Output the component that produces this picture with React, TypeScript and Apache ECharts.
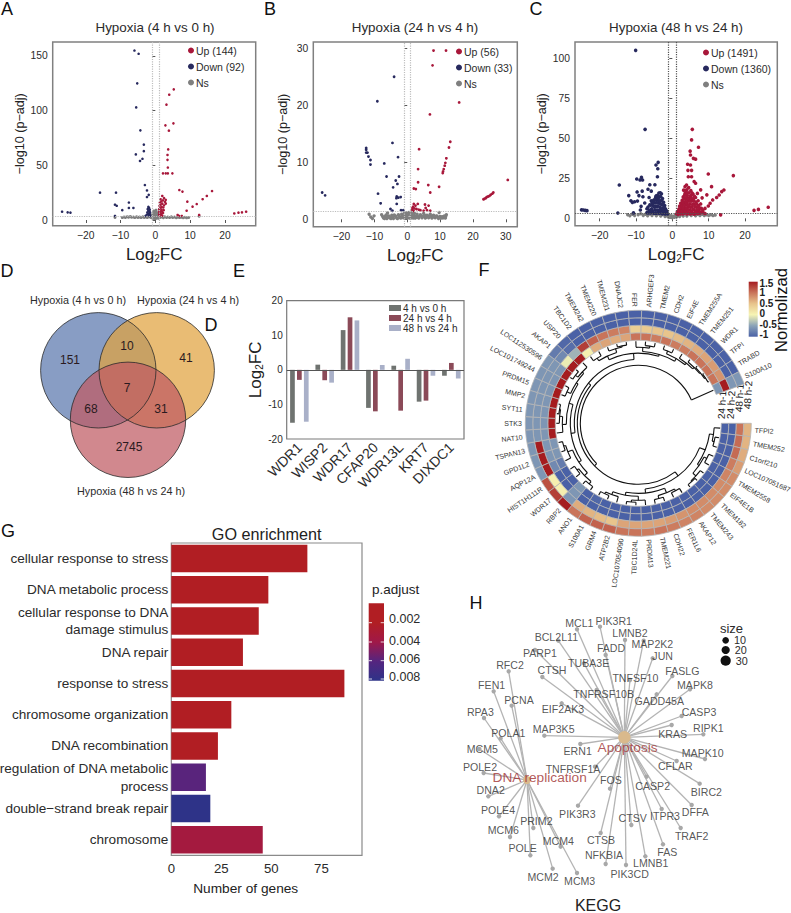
import React, { useEffect, useRef } from "react";
import * as echarts from "echarts";

const FONT = "Liberation Sans";
const TXT = "#2b2b2b";

// ---------- Volcano data ----------
const aUp = [[5.3,119.5],[4,114.6],[3.2,105.5],[2.9,86.6],[5.2,88.4],[3.9,81.7],[3.7,64.6],[3.5,59.5],[3.5,55],[3.6,48],[2.2,42.7],[3,42.7],[3.6,42.7],[4.9,42.7],[6.9,27.4],[7.8,26],[16.3,26.5],[14.8,22],[13.6,19],[11.9,14.6],[10.7,12.2],[9.2,16.8],[9,8.5],[12.6,4.6],[22.7,6],[23.9,6.7],[24.9,7],[26.1,7.6],[6.4,4.6],[6.8,3.7],[7.6,3.7],[2,22],[2.5,20],[1.5,19],[3,18.5],[2.2,18],[1.7,17],[2.8,16.5],[1.3,16],[2,15],[3,15],[1.5,14],[2.5,13.5],[1.2,13],[1.8,12],[2.3,11.5],[1.4,11],[1.1,10],[1.8,9.5],[2.4,9],[1.3,8.5],[1.9,8],[1.1,7.5],[1.5,7],[2.2,6.5],[1.2,6],[1.7,5.5],[1.1,5],[1.5,4.5],[2,4],[1.2,3.8],[1.6,3.7]];
const aDown = [[-6,155],[-4.8,152],[-5.2,125],[-5.5,103],[-4.3,82],[-3.3,69],[-3.3,63],[-5.6,60],[-3.7,56],[-4.4,54],[-3,32],[-2.4,27],[-1.9,23],[-2.4,21],[-15.9,25],[-11.3,25],[-11.6,14],[-11.1,13],[-7.6,16],[-7.6,11],[-6.3,11],[-9.5,9],[-11.6,3.7],[-26.8,7.6],[-25.2,7],[-24.4,6.7],[-2,12],[-1.8,11],[-2.2,10],[-1.6,9.5],[-2,8.5],[-1.7,8],[-2.3,7],[-1.5,7],[-2,6],[-1.6,5.5],[-2.4,5],[-1.9,4.5],[-1.5,4],[-2.8,3.8],[-1.7,3.7]];
const aNs = [[-11.6,2.4],[-9.5,2.2],[-9,2.8],[-8.6,2.4],[-8.1,3],[-7.7,2.6],[-7.2,3.1],[-6.8,2.5],[-6.3,2.8],[-5.9,2.2],[-5.4,2.9],[-5,2.4],[-4.5,2.7],[-4.1,2.2],[-3.6,2.9],[-3.2,2.3],[-2.7,2.8],[-2.3,2.2],[-1.8,2.9],[-1.3,2.3],[-1,3.2],[-0.8,1.6],[-0.7,2.6],[-0.6,3.8],[-0.5,5.2],[-0.4,1.5],[-0.3,2.5],[-0.2,4],[-0.1,6.4],[0,1.4],[0.1,2.6],[0.2,4.4],[0.3,7.2],[0.4,1.6],[0.5,3],[0.6,5.2],[0.7,2.2],[0.8,3.6],[0.9,1.7],[1.3,2.2],[1.8,2.8],[2.3,2.1],[2.7,2.9],[3.2,2.3],[3.6,2.8],[4.1,2.2],[4.6,2.9],[5,2.3],[5.5,2.7],[6,2.1],[6.5,2.6],[7,2.2],[7.5,2.6],[8,2.1],[8.5,2.5],[9,2],[9.6,2.3],[12.6,3.4],[-0.5,8.2],[0.2,9],[-0.2,8],[-0.6,6.4],[0.7,6.2],[-0.9,4.8],[0.95,4.8]];
const bUp = [[8,29.6],[11.8,29.6],[7.7,27],[15.8,20.5],[6.9,18.4],[13.1,13.6],[12.7,12.6],[3.6,12.3],[11.9,10.7],[11.6,9.9],[11.4,9.4],[11.1,8.8],[10.9,8.4],[10.8,8.1],[3.3,8.8],[3.3,6.5],[6.4,6],[9.7,5.7],[2,5.4],[2.6,5.3],[7,4.7],[30.6,6.9],[26.2,4.7],[25.9,4.5],[25.4,4.3],[25,4.1],[24.6,4],[24.2,3.9],[23.9,3.7],[23.5,3.6],[23.2,3.5],[2,2.7],[2.5,2.4],[1.8,2.2],[3.2,2.7],[1.6,2],[2.2,1.9],[2.8,1.8],[1.5,1.7],[3.5,1.7],[4,1.6],[5.4,2.6],[5.6,2],[6.5,2.4],[5,1.5],[6,1.6],[7,1.5],[1.9,1.5]];
const bDown = [[-4,25],[-9.1,20.7],[-4.5,13.4],[-12.5,12.5],[-12.5,12.2],[-12.5,11.7],[-12.1,11.7],[-11.8,11],[-11.2,10.4],[-11.2,9.6],[-2.8,10.9],[-7,9.8],[-6.3,7.5],[-2.5,7.5],[-3.5,6.8],[-3,6.2],[-4.3,5.6],[-25.9,4.7],[-25,4.2],[-8.9,4.5],[-8.1,2.8],[-3.2,4],[-3.3,3.7],[-2.7,3.8],[-2,3.9],[-3.2,2.7],[-5.1,1.8],[-1.9,1.6],[-1.2,1.6],[-4.5,1.5]];
const bNs = [[-11.6,0.9],[-11.1,0.4],[-10.6,0.15],[-10.1,0.6],[-7.8,0.8],[-7.2,0.2],[-6.7,0.5],[-6.2,0.15],[-5.7,0.6],[-5.2,0.2],[-4.7,0.7],[-4.2,0.15],[-3.7,0.6],[-3.2,0.2],[-2.7,0.8],[-2.2,0.3],[-1.7,0.9],[-1.2,0.25],[-0.9,1],[-0.7,0.2],[-0.5,0.7],[-0.3,1.1],[0,0.2],[0.3,0.8],[0.5,1.2],[0.7,0.2],[0.9,0.9],[1.1,0.2],[1.2,1.3],[1.4,0.6],[1.8,0.2],[2.2,1],[2.6,0.3],[3,0.9],[3.5,0.2],[4,0.8],[4.5,0.25],[5,1],[5.5,0.2],[6,0.7],[6.5,0.25],[7,0.9],[7.5,0.2],[8,0.7],[8.5,0.25],[9,0.6],[9.5,0.15],[10,0.5],[10.5,0.2],[11,0.25],[11.6,0.2],[11.9,0.8],[11.7,0.5],[9.7,1.2],[-6,1.1],
[-7.5,0.5],[-6.9,0.15],[-6.45,0.75],[-5.95,0.3],[-5.45,0.5],[-4.95,0.15],[-4.45,0.45],[-3.95,0.75],[-3.45,0.5],[-2.95,0.15],[-2.45,0.6],[-1.95,0.2],[-1.45,0.55],[-1,0.55],[-0.1,0.6],[0.1,1.1],[1.6,0.95],[2,0.55],[2.4,0.2],[2.8,0.6],[3.25,0.4],[3.75,0.55],[4.25,0.6],[4.75,0.5],[5.25,0.7],[5.75,0.35],[6.25,0.6],[6.75,0.45],[7.25,0.6],[7.75,0.4],[8.25,0.45],[8.75,0.55],[9.25,0.35],[9.75,0.3],[10.25,0.4],[10.75,0.45],[11.3,0.6]];
const cUp = [[5.5,55.6],[5.3,49],[7.2,44.4],[4.9,42],[5,39.6],[5.8,37.5],[6.4,37],[4.2,33.8],[5,33.3],[4.3,30],[5.3,30],[9.9,27.7],[16.8,26.7],[4.4,26],[5.3,26],[6,23],[6.4,21.9],[10.8,19.8],[14.2,17.7],[13.6,16.7],[12.9,14.6],[12.2,13],[11.1,11.5],[10.4,9.4],[9.9,7.7],[9,6.2],[8.4,5.2],[13.3,2.2],[26.4,6.9],[23.7,5.6],[22.5,5],[7.8,17.8],[6.9,15.6],[8.2,12.8],[9.5,14.7],
[1.2,2.8],[1.4,4.2],[1.7,3.2],[1.8,5.8],[2,7.6],[2.1,4.2],[2.3,9.4],[2.4,6.2],[2.5,3.2],[2.7,11.2],[2.8,8.2],[2.9,5],[3,13.4],[3.1,17.6],[3.2,10],[3.3,6.6],[3.3,3.3],[3.5,19.8],[3.5,15.6],[3.6,12],[3.7,8.4],[3.8,4.6],[3.9,20.8],[4,17.8],[4.1,14.2],[4.2,10.6],[4.2,6.8],[4.3,3.2],[4.5,19.2],[4.6,16],[4.7,12.6],[4.8,9],[4.8,5.2],[5,2.8],[5.1,17.4],[5.2,14.2],[5.3,10.8],[5.4,7.2],[5.5,3.6],[5.7,15.2],[5.8,12.2],[5.9,9],[6,5.4],[6.2,2.8],[6.4,13],[6.5,10.2],[6.6,7],[6.8,3.6],[7.1,11],[7.2,8],[7.3,5],[7.6,3.2],[7.8,9],[8,6.2],[8.5,3.6],[9,3],
[1.5,2.5],[1.9,4.8],[2.2,2.8],[2.2,6.6],[2.6,4.4],[2.6,7.8],[2.9,9.8],[2.9,2.8],[3,6.2],[3.2,12.2],[3.4,8.2],[3.4,14.6],[3.5,4.8],[3.7,10.2],[3.7,17.2],[3.9,6.2],[3.9,13.2],[4,2.8],[4.1,8.6],[4.2,15.8],[4.4,12],[4.4,5],[4.5,8],[4.6,3],[4.9,14],[4.9,10.8],[5,7],[5.2,4.6],[5.3,12.4],[5.4,16],[5.6,8.8],[5.7,5.6],[5.9,2.8],[5.9,11],[6.1,13.8],[6.2,7.4],[6.4,4.4],[6.7,9],[6.9,5.4],[7,3],[7.5,6.6],[7.9,4]];
const cDown = [[-10.1,105],[-7.5,55.6],[-3.9,35],[-4.5,33.3],[-4,31],[-14.6,20.8],[-9.8,24.6],[-8.5,25.6],[-8.9,24],[-8.2,24],[-4.1,26],[-25,5.3],[-24.5,5.2],[-24,5],[-23.5,4.8],[-15,3.3],[-12,14.2],[-11.4,11],[-11,10],[-10.4,10.4],[-9.6,10.8],[-9.7,16.5],[-9.2,14.2],[-8.3,17],[-8.1,13.5],[-8.6,7.5],[-7.6,9.6],[-8.8,5.2],[-10.7,3.4],[-6.2,21],[-4.8,21],[-6.7,18.2],[-5.8,17],[-6.4,13],[-5.8,11],[-7,6],
[-1.3,2.8],[-1.5,4.4],[-1.8,3],[-1.9,6],[-2.1,8],[-2.2,4.2],[-2.4,10],[-2.5,6.4],[-2.6,3],[-2.7,12.4],[-2.9,8.6],[-3,15.4],[-3,4.8],[-3.2,11],[-3.3,16],[-3.4,7],[-3.5,3.2],[-3.6,13.4],[-3.7,15.8],[-3.8,9.6],[-3.9,5],[-4.1,14.4],[-4.2,11.6],[-4.3,7.4],[-4.4,3.2],[-4.6,13],[-4.7,9.6],[-4.8,5.4],[-5.1,11.4],[-5.2,7.8],[-5.3,3.6],[-5.6,10],[-5.7,6],[-6,3.4],[-6.2,8.4],[-6.4,5],[-7,3.6],
[-1.7,4.8],[-2,2.8],[-2.3,7.4],[-2.5,4.6],[-2.7,8.8],[-2.8,2.9],[-2.9,11],[-3.1,6],[-3.2,13.6],[-3.4,9.2],[-3.5,5],[-3.6,11],[-3.8,3.4],[-3.9,12.6],[-4,7.6],[-4.2,5.2],[-4.3,9.8],[-4.5,14],[-4.6,3.4],[-4.6,7.4],[-4.9,11.4],[-5,7.2],[-5,3.2],[-5.4,9.4],[-5.5,4.6],[-5.9,8.2],[-6,5],[-6.6,3.4],[-6.7,7]];
const cNs = [[-12.3,2.2],[-11.7,1.6],[-11,2.6],[-10.4,1.8],[-9.4,2.2],[-8.7,2.9],[-8,1.8],[-7.4,2.6],[-6.8,1.6],[-6.2,2.7],[-5.6,1.8],[-5,2.8],[-4.4,1.6],[-3.8,2.7],[-3.2,1.5],[-2.6,2.4],[-2,1.2],[-1.6,2],[-1.2,1],[-0.9,2.3],[-0.6,0.7],[-0.3,1.6],[0,0.4],[0.3,1.4],[0.6,0.7],[0.9,2.2],[1.2,1],[1.6,2],[2,1.2],[2.5,2.4],[3,1.4],[3.5,2.7],[4,1.5],[4.6,2.7],[5.2,1.7],[5.8,2.6],[6.4,1.6],[7,2.5],[7.6,1.7],[8.2,2.5],[8.8,1.8],[9.4,2.2],[10,1.8],[10.6,2.2],[11.2,1.7],[11.8,2]];

const aXTicks = [-20,-10,0,10,20];
const aYTicks = [0,50,100,150];
const bXTicks = [-20,-10,0,10,20,30];
const bYTicks = [0,10,20,30];
const cXTicks = [-20,-10,0,10,20];
const cYTicks = [0,25,50,75,100];

// ---------- Bars E ----------
const geneBars = ["WDR1","WISP2","WDR17","CFAP20","WDR13L","KRT7","DIXDC1"];
const fc4v0 = [-15.3,1.5,11.5,-11,1.2,-9.2,-1.7];
const fc24v4 = [-2.9,-3,15.2,-12,-11.8,-8.9,2];
const fc48v24 = [-15,-3.7,14.3,1.4,3.2,-1.7,-2.5];

// ---------- Venn D ----------
const vennLabels = ["Hypoxia (4 h vs 0 h)","Hypoxia (24 h vs 4 h)","Hypoxia (48 h vs 24 h)"];
const vennCounts = ["151","10","41","7","68","31","2745"];

// ---------- Heat ring F ----------
const ringGenes = ["TFPI2","TMEM252","C1orf210","LOC107051687","TMEM2558","EIF4E1B","TMEM182","TMEM243","AKAP12","FER1L6","CDH22","TMEM221","PRDM13","TBC1D24L","LOC107054090","ATP2B2","GRM4","S100A1","ANO1","RBP2","WDR17","HIST1H111R","AQP12A","GPD1L2","TSPAN13","NAT10","STK3","SYT11","MMP2","PRDM15","LOC101749244","LOC112530596","AKAP1","USP20","TBC1D2","TMEM242","TMEM220","TMEM231","DNAJC2","FER","ARHGEF3","TMEM2","CDH2","EIF4E","TMEM255A","TMEM251","WDR1","TFPI","TRABD","S100A10"];
const ringBlank = ["","",""];
const ringSamples = ["24 h-1","24 h-2","48 h-1","48 h-2"];
const hm24h1 = [-1,-1,-1,-1,-1,-1,-1,-1,-1,-1,-1,-1,-1,-1,-1,-1,-1,-0.95,-1,-0.6,-1,-1,-0.8,-0.6,-0.6,1.5,1.5,1.5,1.5,1.5,1.5,1.5,1.5,1.5,0.05,0.65,0.7,0.65,0.7,1,1,0.95,1,0.95,0.95,1,1,1,1,-0.6];
const hm24h2 = [-1,-1,-1,-1,-1,-1,-1,-1,-1,-1,-1,-1,-1,-1,-1,-1,-1,-1,-1,-0.6,-1,-1,-0.7,-0.6,-0.6,-0.6,-0.6,-0.6,-0.6,-0.6,-0.6,-0.6,-0.05,-0.4,1.3,1.1,1,0.95,0.9,0.4,0.45,0.5,0.5,0.55,0.6,0.65,0.7,0.75,0.8,1.5];
const hm48h1 = [1,1.05,1.05,0.95,0.9,0.85,0.85,0.85,0.85,0.8,0.75,0.7,0.7,0.7,0.7,0.5,0.55,0.6,0.65,-0.6,0.05,0.05,1.5,1.5,1.5,-0.6,-0.6,-0.6,-0.6,-0.6,-0.6,-0.6,-0.7,-0.9,-1,-1,-1,-1,-1,-1,-1,-1,-1,-1,-1,-1,-1,-1,-1,-0.6];
const hm48h2 = [0.6,0.6,0.65,0.75,0.85,0.85,0.85,0.85,0.9,0.9,0.95,1,0.95,1,1,1.1,1.1,1.1,1,1.5,1.3,1.2,-0.6,-0.6,-0.6,-0.6,-0.6,-0.6,-0.6,-0.6,-0.6,-0.6,-0.8,-0.95,-1,-1,-1,-1,-1,-1,-1,-1,-1,-1,-1,-1,-1,-1,-1,-0.6];
const heatColors = ["#4a61a6","#8ba3b8","#f6f4b4","#e8c48c","#c9745a","#a51c1f"];
const heatTicks = ["1.5","1","0.5","0","-0.5","-1"];

// dendrogram: [merge radius, child, child]
const tC1 = [66,[72,[76,0,[78,1,2]],[74,[77,3,4],[78,5,[79,6,7]]]],[70,[75,[77,8,9],[78,10,11]],[73,[77,12,[79,13,14]],[76,15,[78,16,17]]]]];
const tC2 = [71,[75,[78,18,19],[77,20,21]],[76,22,[78,23,24]]];
const tC3 = [72,[76,25,[79,26,[80,27,28]]],[74,[78,29,30],[76,[79,31,32],33]]];
const tC4 = [70,[74,[77,34,35],[78,36,[79,37,38]]],[72,[76,39,[78,40,41]],[75,[78,42,43],[77,44,[79,45,[80,46,[81,47,48]]]]]]];
const dendro = [58,[61,tC1,[64,[68,tC2,tC3],tC4]],49];

// ---------- GO G ----------
const goTerms = ["cellular response to stress","DNA metabolic process","cellular response to DNA\ndamage stimulus","DNA repair","response to stress","chromosome organization","DNA recombination","regulation of DNA metabolic\nprocess","double\u2212strand break repair","chromosome"];
const goCounts = [68,48.5,43.7,35.8,86.5,30,23.3,17.3,19.5,45.7];
const goPadj = [0.0006,0.0006,0.0008,0.0008,0.001,0.001,0.0012,0.0059,0.008,0.0035];
const goPalette = ["#b11e23","#b11e23","#a01848","#55257f","#2e3388"];
const goXTicks = [0,25,50,75];
const padjTicks = ["0.002","0.004","0.006","0.008"];

// ---------- KEGG H : [gene, node x, node y, label x, label y] in layout units ----------
const apoptosisHub = ["Apoptosis",583,442,593,471];
const replicationHub = ["DNA replication",291,570,329,562];
const apoptosisGenes: any[] = [["MCL1",441,118,448,100],["PIK3R1",510,110,551,94],["LMNB2",585,150,600,128],["MAP2K2",641,152,667,163],["FADD",527,195,543,174],["JUN",668,205,698,197],["BCL2L11",385,152,379,141],["PARP1",315,180,330,188],["TUBA3E",462,220,476,218],["TNFSF10",600,270,616,264],["FASLG",727,258,757,243],["GADD45A",680,313,688,333],["MAPK8",780,298,795,285],["CTSH",337,261,366,240],["TNFRSF10B",500,300,521,311],["EIF2AK3",395,340,399,358],["CASP3",755,378,807,365],["KRAS",725,405,728,433],["RIPK1",820,433,835,414],["MAP3K5",343,437,371,417],["ERN1",451,462,443,484],["MAPK10",825,507,818,488],["CFLAR",740,513,736,528],["BIRC2",809,581,829,605],["TNFRSF1A",495,530,429,536],["FOS",540,596,543,571],["CASP2",650,560,668,589],["DFFA",785,645,796,667],["PIK3R3",444,647,442,671],["CTSV",604,705,608,683],["ITPR3",695,657,705,678],["TRAF2",752,714,785,737],["CTSB",512,729,513,749],["NFKBIA",527,822,522,796],["PIK3CD",588,825,599,853],["LMNB1",646,799,662,820],["FAS",699,763,712,787]];
const replicationGenes: any[] = [["RFC2",236,244,240,226],["FEN1",191,304,185,284],["PCNA",245,347,267,330],["RPA3",162,384,151,367],["POLA1",212,445,235,430],["MCM5",148,477,157,477],["POLE2",161,549,150,531],["DNA2",175,619,182,600],["POLE4",207,679,204,661],["MCM6",240,741,220,719],["PRIM2",310,714,319,692],["POLE",301,796,278,775],["MCM4",392,770,385,752],["MCM2",368,836,339,860],["MCM3",441,849,449,874]];
const sizeLegend = [[887,151,"10",6.6],[887,180,"20",8.2],[887,212,"30",10.2]];

// ---------- option helpers ----------
const txt = (text: string, x: number, y: number, size: number, extra: any = {}) => ({
  type: "text", x, y, rotation: extra.rotation || 0, silent: true,
  style: { text, fontFamily: FONT, fontSize: size, fill: extra.fill || TXT, fontWeight: extra.weight || "normal",
    textAlign: extra.align || "center", textVerticalAlign: "middle" },
});
const rich = { a: { fontSize: 17, color: "#222" }, s: { fontSize: 10, color: "#222", verticalAlign: "bottom", padding: [8, 0, 0, 0] } };
const fmtMinus = (v: number) => (v < 0 ? "\u2212" + Math.abs(v) : String(v));

function App() {
  const ref = useRef<HTMLDivElement>(null);
  useEffect(() => {
    document.body.style.margin = "0";
    const chart = echarts.init(ref.current!, null, { renderer: "svg" });

    const grids: any[] = [], xAxes: any[] = [], yAxes: any[] = [], series: any[] = [], legends: any[] = [];

    const volcano = (c: any) => {
      const i = grids.length;
      grids.push({ left: c.left, top: c.top, width: c.w, height: c.h, show: true, borderColor: "#808080", borderWidth: 1.5, backgroundColor: "transparent", outerBoundsMode: "none" });
      xAxes.push({ type: "value", gridIndex: i, min: c.xr[0], max: c.xr[1], splitLine: { show: false },
        axisLine: { show: false }, axisTick: { length: 3, lineStyle: { color: "#555" }, customValues: c.xt },
        axisLabel: { fontSize: 10.3, color: TXT, margin: 5, customValues: c.xt, formatter: fmtMinus },
        name: "{a|Log}{s|2}{a|FC}", nameLocation: "middle", nameGap: 20, nameTextStyle: { rich } });
      yAxes.push({ type: "value", gridIndex: i, min: c.yr[0], max: c.yr[1], splitLine: { show: false },
        axisLine: { show: false }, axisTick: { length: 3, lineStyle: { color: "#555" }, customValues: c.yt },
        axisLabel: { fontSize: 10.3, color: TXT, margin: 5, customValues: c.yt },
        name: "\u2212log10 (p\u2212adj)", nameLocation: "middle", nameGap: c.ng, nameTextStyle: { fontSize: 12.6, color: "#222" } });
      const common = { type: "scatter", xAxisIndex: i, yAxisIndex: i, symbolSize: c.sym, silent: true };
      series.push({ ...common, name: "Ns", symbolSize: c.nsSym, data: c.ns, itemStyle: { color: "#7f7f7f", opacity: 1 },
        markLine: { silent: true, symbol: "none", animation: false, label: { show: false },
          lineStyle: { type: "dotted", color: c.lineColor, width: 1.2 },
          data: [{ xAxis: -1 }, { xAxis: 1 }, { yAxis: c.th }] } });
      series.push({ ...common, name: c.upName, data: c.up, itemStyle: { color: "#a8173a", opacity: 1 } });
      series.push({ ...common, name: c.downName, data: c.down, itemStyle: { color: "#27295e", opacity: 1 } });
      legends.push({ left: c.legX, top: c.legY, orient: "vertical", itemWidth: 6, itemHeight: 6, itemGap: c.legGap, icon: "circle",
        data: [c.upName, c.downName, "Ns"], selectedMode: false, padding: 0,
        textStyle: { fontSize: 10.5, color: TXT, padding: [0, 0, 0, -3], fontFamily: FONT } });
    };

    volcano({ left: 52.7, top: 42, w: 203, h: 183.7, xr: [-29.5, 28.85], yr: [-5.2, 162.8], xt: aXTicks, yt: aYTicks, ng: 26, sym: 2.6, nsSym: 3, ns: aNs, up: aUp, down: aDown,
      th: 3.6, lineColor: "#bdbdbd", upName: "Up (144)", downName: "Down (92)", legX: 188, legY: 45, legGap: 5 });
    volcano({ left: 313.3, top: 42, w: 204, h: 184.7, xr: [-28.6, 33.5], yr: [-1.3, 31.1], xt: bXTicks, yt: bYTicks, ng: 24, sym: 2.8, nsSym: 3.4, ns: bNs, up: bUp, down: bDown,
      th: 1.45, lineColor: "#bdbdbd", upName: "Up (56)", downName: "Down (33)", legX: 456, legY: 46, legGap: 5 });
    volcano({ left: 575, top: 42, w: 202.3, h: 183.7, xr: [-26.8, 28.9], yr: [-4.6, 110.2], xt: cXTicks, yt: cYTicks, ng: 22, sym: 3.6, nsSym: 3.4, ns: cNs, up: cUp, down: cDown,
      th: 3.1, lineColor: "#555555", upName: "Up (1491)", downName: "Down (1360)", legX: 703, legY: 47, legGap: 5 });

    // E bars
    const eI = grids.length;
    grids.push({ left: 286.7, top: 300.7, width: 177.3, height: 138.3, show: true, borderColor: "#7a7a7a", borderWidth: 1.2, backgroundColor: "transparent", outerBoundsMode: "none" });
    xAxes.push({ type: "category", gridIndex: eI, data: geneBars, axisLine: { show: false }, axisTick: { alignWithLabel: true, length: 3, lineStyle: { color: "#555" } },
      axisLabel: { rotate: 45, fontSize: 14, color: TXT, margin: 6, interval: 0 } });
    yAxes.push({ type: "value", gridIndex: eI, min: -20, max: 20, interval: 10, splitLine: { show: false }, axisLine: { show: false }, axisTick: { show: false },
      axisLabel: { fontSize: 10, color: TXT, margin: 4 }, name: "{a|Log}{s|2}{a|FC}", nameLocation: "middle", nameGap: 20, nameTextStyle: { rich } });
    const barCommon = { type: "bar", xAxisIndex: eI, yAxisIndex: eI, barWidth: 4.7, barGap: "47%", silent: true };
    series.push({ ...barCommon, name: "4 h vs 0 h", data: fc4v0, itemStyle: { color: "#6f7370" },
      markLine: { silent: true, symbol: "none", animation: false, label: { show: false }, lineStyle: { type: "solid", color: "#555", width: 1 }, data: [{ yAxis: 0 }] } });
    series.push({ ...barCommon, name: "24 h vs 4 h", data: fc24v4, itemStyle: { color: "#8b4a58" } });
    series.push({ ...barCommon, name: "48 h vs 24 h", data: fc48v24, itemStyle: { color: "#a9b0c8" } });
    legends.push({ left: 389, top: 303, orient: "vertical", itemWidth: 12, itemHeight: 6, itemGap: 0, selectedMode: false, padding: 0, icon: "rect",
      data: ["4 h vs 0 h", "24 h vs 4 h", "48 h vs 24 h"], textStyle: { fontSize: 10, lineHeight: 9.4, height: 9.4, color: TXT, padding: [0, 0, 0, -3], fontFamily: FONT } });

    // G bars
    const gI = grids.length;
    grids.push({ left: 171.3, top: 543, width: 190.7, height: 312.3, show: true, borderColor: "#8a8a8a", borderWidth: 1.2, backgroundColor: "transparent", outerBoundsMode: "none" });
    xAxes.push({ type: "value", gridIndex: gI, min: 0, max: 95.3, splitLine: { show: false }, axisLine: { show: false },
      axisTick: { length: 3, lineStyle: { color: "#555" }, customValues: goXTicks },
      axisLabel: { fontSize: 13.2, color: TXT, margin: 7, customValues: goXTicks } });
    yAxes.push({ type: "category", gridIndex: gI, inverse: true, data: goTerms, axisLine: { show: false }, axisTick: { length: 2, lineStyle: { color: "#555" } },
      axisLabel: { fontSize: 13.6, color: TXT, margin: 3, interval: 0, lineHeight: 17.7, align: "right" } });
    const goIdx = series.length;
    series.push({ type: "bar", xAxisIndex: gI, yAxisIndex: gI, barWidth: 27.5, silent: true, encode: { x: 0, y: 1 },
      data: goCounts.map((v, k) => [v, k, goPadj[k]]) });

    // H network
    const hI = grids.length;
    grids.push({ left: 430, top: 590, width: 361, height: 323, show: false, outerBoundsMode: "none" });
    xAxes.push({ type: "value", gridIndex: hI, min: 0, max: 1083, show: false });
    yAxes.push({ type: "value", gridIndex: hI, min: 0, max: 969, inverse: true, show: false });
    const allGenes = [...apoptosisGenes, ...replicationGenes];
    const nodes = [
      { name: apoptosisHub[0], value: [apoptosisHub[1], apoptosisHub[2]], symbolSize: 12.5, itemStyle: { color: "#d9b98c" } },
      { name: replicationHub[0], value: [replicationHub[1], replicationHub[2]], symbolSize: 8, itemStyle: { color: "#d9b98c" } },
      ...allGenes.map((g) => ({ name: g[0], value: [g[1], g[2]], symbolSize: 4.4, itemStyle: { color: "#a8a8a8" } })),
    ];
    const links = [
      ...apoptosisGenes.map((g) => ({ source: apoptosisHub[0], target: g[0] })),
      ...replicationGenes.map((g) => ({ source: replicationHub[0], target: g[0] })),
    ];
    series.push({ type: "graph", coordinateSystem: "cartesian2d", xAxisIndex: hI, yAxisIndex: hI, layout: "none", silent: true, z: 2,
      data: nodes, links, label: { show: false }, lineStyle: { color: "#b4b4b4", width: 1.3, opacity: 1 } });
    series.push({ type: "scatter", xAxisIndex: hI, yAxisIndex: hI, silent: true, z: 4, symbolSize: 1, itemStyle: { color: "transparent" },
      label: { show: true, position: "inside", fontSize: 10.6, color: TXT, formatter: (p: any) => p.data[2] },
      data: allGenes.map((g) => [g[3], g[4], g[0]]) });
    series.push({ type: "scatter", xAxisIndex: hI, yAxisIndex: hI, silent: true, z: 4, symbolSize: 1, itemStyle: { color: "transparent" },
      label: { show: true, position: "inside", fontSize: 13.7, color: "#a03030", formatter: (p: any) => p.data[2] },
      data: [apoptosisHub, replicationHub].map((g) => [g[3], g[4], g[0]]) });
    series.push({ type: "scatter", xAxisIndex: hI, yAxisIndex: hI, silent: true, z: 4, symbolSize: (v: any) => v[3], itemStyle: { color: "#111", opacity: 1 },
      label: { show: true, position: "right", distance: 5, fontSize: 10.8, lineHeight: 9.4, height: 9.4, color: TXT, formatter: (p: any) => p.data[2] },
      data: sizeLegend });

    // F ring
    const ringRows = [hm24h1, hm24h2, hm48h1, hm48h2];
    const heatData: number[][] = [];
    ringRows.forEach((row, r) => row.forEach((v, g) => heatData.push([r, g, v])));
    const heatIdx = series.length;
    series.push({ type: "custom", coordinateSystem: "polar", silent: true, data: heatData,
      renderItem: (params: any, api: any) => {
        const vals = [api.value(0), api.value(1)];
        const co = api.coord(vals);
        const sz = api.size([1, 1], vals);
        return { type: "sector",
          shape: { cx: params.coordSys.cx, cy: params.coordSys.cy, r0: co[2] - sz[0] / 2, r: co[2] + sz[0] / 2,
            startAngle: -(co[3] + sz[1] / 2), endAngle: -(co[3] - sz[1] / 2) },
          style: { fill: api.visual("color"), stroke: "#b5b5b5", lineWidth: 0.8 } };
      } });
    series.push({ type: "custom", coordinateSystem: "polar", silent: true, data: ringGenes.map((_, g) => [3, g]),
      renderItem: (params: any, api: any) => {
        const g = api.value(1);
        const co = api.coord([3, g]);
        const th = -co[3];
        const R = params.coordSys.r + 3.5;
        const x = params.coordSys.cx + R * Math.cos(th), y = params.coordSys.cy + R * Math.sin(th);
        const cos = Math.cos(th);
        return { type: "text", x, y, rotation: cos >= 0 ? -th : -(th - Math.PI),
          style: { text: ringGenes[g], fontSize: 7, fontFamily: FONT, fill: "#333", textAlign: cos >= 0 ? "left" : "right", textVerticalAlign: "middle" } };
      } });
    series.push({ type: "custom", coordinateSystem: "polar", silent: true, data: [[0, 0]],
      renderItem: (params: any, api: any) => {
        const cx = params.coordSys.cx, cy = params.coordSys.cy, leafR = params.coordSys.r0 - 1;
        const kids: any[] = [];
        const stroke = { stroke: "#111", lineWidth: 1.1, fill: "none" };
        const walk = (n: any): { t: number; r: number } => {
          if (typeof n === "number") {
            let t = -api.coord([0, n])[3];
            t = ((t % (2 * Math.PI)) + 2 * Math.PI) % (2 * Math.PI);
            return { t, r: leafR };
          }
          const a = walk(n[1]), b = walk(n[2]);
          const lo = Math.min(a.t, b.t), hi = Math.max(a.t, b.t);
          kids.push({ type: "arc", shape: { cx, cy, r: n[0], startAngle: lo, endAngle: hi, clockwise: true }, style: stroke });
          [a, b].forEach((c) => kids.push({ type: "line",
            shape: { x1: cx + n[0] * Math.cos(c.t), y1: cy + n[0] * Math.sin(c.t), x2: cx + c.r * Math.cos(c.t), y2: cy + c.r * Math.sin(c.t) }, style: stroke }));
          return { t: (lo + hi) / 2, r: n[0] };
        };
        walk(dendro);
        return { type: "group", children: kids };
      } });

    // graphic texts / venn / legends
    const g: any[] = [];
    [["A",7,9],["B",270,9],["C",536,9],["D",7,271],["E",239,271],["F",484,270],["G",8,531],["H",476,603]].forEach((l: any) => g.push(txt(l[0], l[1], l[2], 18, { fill: "#111" })));
    g.push(txt("Hypoxia (4 h vs 0 h)", 155, 27, 13.4));
    g.push(txt("Hypoxia (24 h vs 4 h)", 415, 27, 13.4));
    g.push(txt("Hypoxia (48 h vs 24 h)", 676, 27, 13.4));
    // venn
    [[98.3,370.3,"#4b6aa5",0.66],[156.7,370.3,"#e0a23e",0.72],[128,419.8,"#bf5a63",0.72]].forEach((c: any) =>
      g.push({ type: "circle", shape: { cx: c[0], cy: c[1], r: 57.7 }, silent: true, style: { fill: c[2], opacity: c[3] } }));
    [[98.3,370.3],[156.7,370.3],[128,419.8]].forEach((c) =>
      g.push({ type: "circle", shape: { cx: c[0], cy: c[1], r: 57.7 }, silent: true, style: { fill: "none", stroke: "#2a2a2a", lineWidth: 0.8 } }));
    g.push(txt(vennLabels[0], 78, 300, 10.8));
    g.push(txt(vennLabels[1], 188, 300, 10.8));
    g.push(txt(vennLabels[2], 131, 490.7, 10.8));
    [[70,360],[127,346],[186,358],[127,387.5],[91,408.5],[161,409],[129,447]].forEach((p, k) => g.push(txt(vennCounts[k], p[0], p[1], 12, { fill: "#2a1a20" })));
    g.push(txt("D", 211, 325, 18, { fill: "#111" }));
    // heat legend
    g.push({ type: "rect", shape: { x: 748.7, y: 281.7, width: 9, height: 55 }, silent: true,
      style: { fill: new echarts.graphic.LinearGradient(0, 0, 0, 1, [...heatColors].reverse().map((c, k) => ({ offset: k / 5, color: c }))) } });
    [283.3,292.7,303.3,313,324,334].forEach((y, k) => g.push(txt(heatTicks[k], 759.5, y, 10, { align: "left", weight: "bold", fill: "#222" })));
    g.push(txt("Normolizad", 781, 310, 16.6, { rotation: Math.PI / 2, fill: "#111" }));
    [[722,405],[731,405],[739.5,398],[748,395]].forEach((p, k) => g.push(txt(ringSamples[k], p[0], p[1], 10, { rotation: Math.PI / 2 - 0.05, fill: "#222" })));
    // go legend
    g.push(txt("GO enrichment", 266.7, 534, 16.2, { fill: "#222" }));
    g.push(txt("Number of genes", 245.7, 888, 13.7, { fill: "#222" }));
    g.push(txt("p.adjust", 395.7, 589, 13.5, { fill: "#222" }));
    g.push({ type: "rect", shape: { x: 368.7, y: 603.3, width: 15.3, height: 77.4 }, silent: true,
      style: { fill: new echarts.graphic.LinearGradient(0, 0, 0, 1, [
        { offset: 0, color: goPalette[0] }, { offset: 0.25, color: goPalette[1] }, { offset: 0.5, color: goPalette[2] }, { offset: 0.75, color: goPalette[3] }, { offset: 1, color: goPalette[4] } ]) } });
    [619,641,659,677].forEach((y, k) => g.push(txt(padjTicks[k], 389, y, 12.5, { align: "left" })));
    [622.7,642,660.7,679].forEach((y) => {
      g.push({ type: "line", silent: true, shape: { x1: 368.7, y1: y, x2: 372, y2: y }, style: { stroke: "#fff", lineWidth: 0.8 } });
      g.push({ type: "line", silent: true, shape: { x1: 380.7, y1: y, x2: 384, y2: y }, style: { stroke: "#fff", lineWidth: 0.8 } });
    });
    // kegg
    g.push(txt("size", 731.5, 628, 13));
    g.push(txt("KEGG", 598, 905, 16, { fill: "#222" }));

    chart.setOption({
      animation: false,
      backgroundColor: "#ffffff",
      textStyle: { fontFamily: FONT },
      grid: grids, xAxis: xAxes, yAxis: yAxes, legend: legends, series,
      polar: { center: [638.3, 423.3], radius: [83, 113] },
      angleAxis: { type: "category", data: [...ringGenes, ...ringBlank], startAngle: 0, clockwise: true, show: false },
      radiusAxis: { type: "category", data: ringSamples, show: false },
      visualMap: [
        { type: "continuous", show: false, seriesIndex: [heatIdx], dimension: 2, min: -1, max: 1.5, inRange: { color: heatColors } },
        { type: "continuous", show: false, seriesIndex: [goIdx], dimension: 2, min: 0, max: 0.008, inRange: { color: goPalette } },
      ],
      graphic: { elements: g },
    });
    return () => chart.dispose();
  }, []);
  return <div ref={ref} style={{ position: "absolute", left: 0, top: 0, width: 791, height: 913 }} />;
}

export default App;
